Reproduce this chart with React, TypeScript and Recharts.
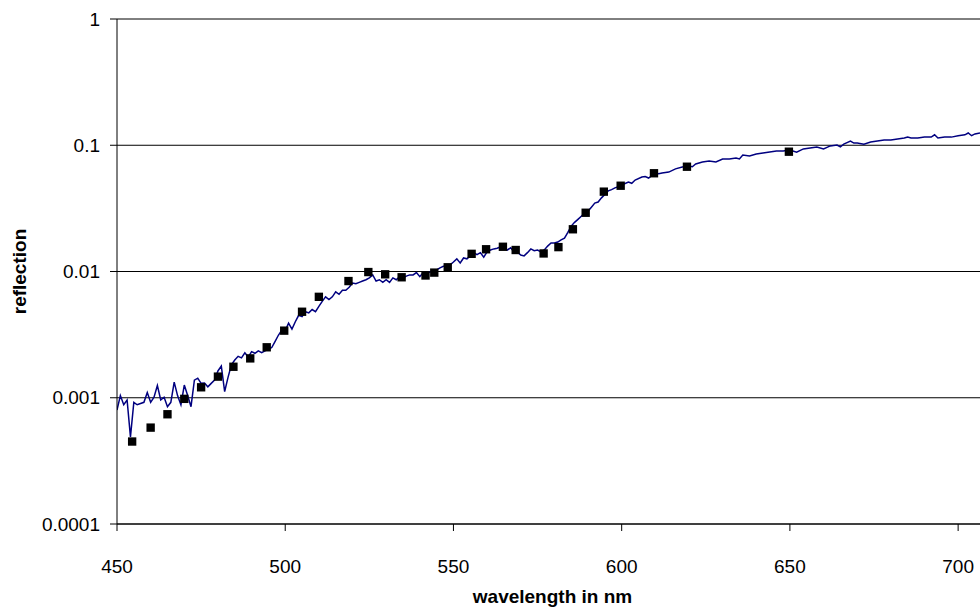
import React from 'react';
import { ComposedChart, Line, Scatter, XAxis, YAxis, ZAxis, CartesianGrid } from 'recharts';

// measured spectrum (blue line)
const spectrumNm: number[] = [
  450, 451, 452, 453, 454, 455, 456, 457, 458, 459,
  460, 461, 462, 463, 464, 465, 466, 467, 468, 469,
  470, 471, 472, 473, 474, 475, 476, 477, 478, 479,
  480, 481, 482, 483, 484, 485, 486, 487, 488, 489,
  490, 491, 492, 493, 494, 495, 496, 497, 498, 499,
  500, 501, 502, 503, 504, 505, 506, 507, 508, 509,
  510, 511, 512, 513, 514, 515, 516, 517, 518, 519,
  520, 521, 522, 523, 524, 525, 526, 527, 528, 529,
  530, 531, 532, 533, 534, 535, 536, 537, 538, 539,
  540, 541, 542, 543, 544, 545, 546, 547, 548, 549,
  550, 551, 552, 553, 554, 555, 556, 557, 558, 559,
  560, 561, 562, 563, 564, 565, 566, 567, 568, 569,
  570, 571, 572, 573, 574, 575, 576, 577, 578, 579,
  580, 581, 582, 583, 584, 585, 586, 587, 588, 589,
  590, 591, 592, 593, 594, 596, 597, 598, 599, 600,
  602, 603, 604, 606, 607, 608, 610, 611, 612, 614,
  616, 618, 620, 621, 622, 624, 626, 628, 630, 632,
  634, 635, 636, 638, 640, 642, 644, 646, 648, 650,
  652, 654, 656, 658, 660, 662, 664, 665, 666, 668,
  669, 670, 672, 674, 676, 678, 680, 682, 684, 685,
  686, 688, 690, 692, 693, 694, 696, 698, 700, 702,
  703, 704, 705, 706.5,
];

const spectrumReflection: number[] = [
  0.0008, 0.00104, 0.00088, 0.00096, 0.00049, 0.00092, 0.00088, 0.0009, 0.00092, 0.0011,
  0.00092, 0.00101, 0.00125, 0.00096, 0.00101, 0.00085, 0.00092, 0.00133, 0.00104, 0.00088,
  0.00126, 0.00104, 0.00085, 0.00138, 0.00143, 0.0013, 0.00131, 0.00122, 0.0013, 0.00138,
  0.00163, 0.00178, 0.00112, 0.00145, 0.00182, 0.00199, 0.00213, 0.00207, 0.00227, 0.0021,
  0.00232, 0.00225, 0.00235, 0.00228, 0.00235, 0.00242, 0.0025, 0.0028, 0.00314, 0.00344,
  0.0034, 0.0039, 0.0035, 0.004, 0.0045, 0.0044, 0.0048, 0.0047, 0.005, 0.0048,
  0.0053, 0.0058, 0.0063, 0.006, 0.0063, 0.0069, 0.0066, 0.0071, 0.0071, 0.0075,
  0.0081, 0.008, 0.0082, 0.0084, 0.0086, 0.0089, 0.0094, 0.0084, 0.0086, 0.0082,
  0.0086, 0.0082, 0.0089, 0.0086, 0.0091, 0.0089, 0.0092, 0.0094, 0.0094, 0.0098,
  0.0091, 0.0098, 0.0097, 0.0099, 0.0101, 0.0103, 0.0107, 0.011, 0.011, 0.0113,
  0.0119, 0.0126, 0.0117, 0.0128, 0.0126, 0.0133, 0.0141, 0.0136, 0.0141, 0.013,
  0.0143, 0.0148, 0.0151, 0.0153, 0.0157, 0.0154, 0.0148, 0.0154, 0.0143, 0.0143,
  0.0135, 0.0133, 0.0141, 0.0151, 0.0146, 0.0148, 0.0143, 0.0148, 0.0159, 0.0168,
  0.0168, 0.0171, 0.0178, 0.0184, 0.0204, 0.0229, 0.0245, 0.0259, 0.0274, 0.029,
  0.03, 0.0323, 0.0348, 0.0355, 0.0383, 0.0435, 0.0445, 0.046, 0.047, 0.0484,
  0.0512, 0.05, 0.053, 0.056, 0.0565, 0.055, 0.0603, 0.0595, 0.0603, 0.0613,
  0.065, 0.0672, 0.0685, 0.0675, 0.071, 0.0737, 0.075, 0.0737, 0.0779, 0.0779,
  0.0793, 0.078, 0.0837, 0.0822, 0.0853, 0.0868, 0.0883, 0.09, 0.09, 0.0917,
  0.088, 0.0935, 0.0953, 0.097, 0.0935, 0.0988, 0.1005, 0.097, 0.102, 0.108,
  0.104, 0.104, 0.102, 0.106, 0.108, 0.11, 0.11, 0.112, 0.114, 0.116,
  0.114, 0.114, 0.116, 0.116, 0.121, 0.114, 0.116, 0.116, 0.119, 0.121,
  0.125, 0.119, 0.123, 0.125,
];

// single measurements (black squares)
const sampleNm: number[] = [
  454.5, 460, 465, 470, 475, 480, 484.6, 489.6, 494.5, 499.7,
  505, 510, 518.8, 524.7, 529.7, 534.6, 541.7, 544.3, 548.3, 555.4,
  559.7, 564.7, 568.5, 576.8, 581.2, 585.5, 589.3, 594.7, 599.7, 609.6,
  619.4, 649.7,
];

const sampleReflection: number[] = [
  0.00045, 0.00058, 0.00074, 0.00098, 0.00121, 0.00147, 0.00176, 0.00205, 0.00251, 0.0034,
  0.0048, 0.0063, 0.0084, 0.0099, 0.0095, 0.009, 0.0093, 0.0098, 0.0108, 0.0138,
  0.015, 0.0157, 0.0148, 0.0139, 0.0156, 0.0216, 0.0292, 0.0429, 0.0478, 0.06,
  0.0676, 0.0889,
];

const xTicks = [450, 500, 550, 600, 650, 700];
const yTicks = [0.0001, 0.001, 0.01, 0.1, 1];

const spectrum = spectrumNm.map((nm, i) => ({ nm, r: spectrumReflection[i] }));
const samples = sampleNm.map((nm, i) => ({ nm, r: sampleReflection[i] }));

const font = '"Liberation Sans", Arial, Helvetica, sans-serif';
const tickStyle = { fill: '#000', fontSize: 19, fontFamily: font };
const titleStyle = { fill: '#000', fontSize: 19, fontWeight: 700, fontFamily: font };

const App: React.FC = () => {
  return (
    <div style={{ position: 'absolute', left: 0, top: 0, width: 980, height: 607, background: '#fff' }}>
      <ComposedChart width={980} height={607} margin={{ top: 19, right: 0, bottom: 0, left: 0 }}>
        <CartesianGrid vertical={false} stroke="#000" strokeWidth={1} />
        <XAxis
          dataKey="nm"
          type="number"
          domain={[450, 706.5]}
          ticks={xTicks}
          allowDataOverflow
          height={83}
          stroke="#000"
          tickSize={7}
          tickMargin={29}
          tick={tickStyle}
          label={{ value: 'wavelength in nm', position: 'insideBottom', offset: 4, dx: 4, style: titleStyle }}
        />
        <YAxis
          dataKey="r"
          type="number"
          scale="log"
          domain={[0.0001, 1]}
          ticks={yTicks}
          allowDataOverflow
          width={117}
          stroke="#000"
          tickSize={7}
          tickMargin={10}
          tick={tickStyle}
          label={{ value: 'reflection', angle: -90, position: 'insideLeft', offset: 19, style: { ...titleStyle, textAnchor: 'middle' } }}
        />
        <ZAxis range={[70, 70]} />
        <Line
          data={spectrum}
          dataKey="r"
          type="linear"
          stroke="#000080"
          strokeWidth={1.5}
          dot={false}
          activeDot={false}
          isAnimationActive={false}
        />
        <Scatter data={samples} dataKey="r" fill="#000" shape="square" isAnimationActive={false} />
      </ComposedChart>
    </div>
  );
};

export default App;
